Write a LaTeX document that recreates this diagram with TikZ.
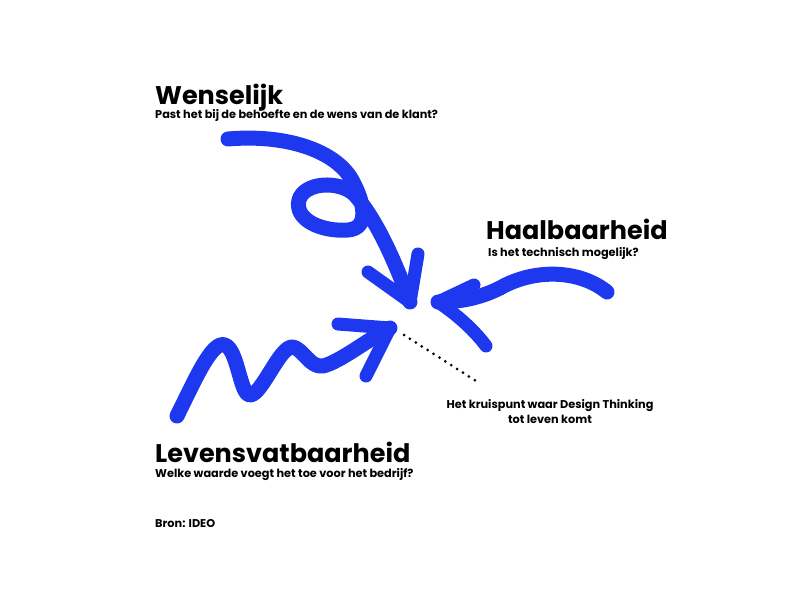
\documentclass[tikz,border=0pt]{standalone}
\usepackage{fontspec}
\setmainfont{Poppins}
\usetikzlibrary{positioning}
\definecolor{brush}{RGB}{30,56,240}

\begin{document}
\begin{tikzpicture}[x=1pt,y=-1pt,
  title/.style={font=\bfseries\fontsize{25.5}{28}\selectfont, anchor=base west, inner sep=0pt},
  sub/.style={font=\bfseries\fontsize{11.3}{15}\selectfont, anchor=base west, inner sep=0pt},
  stroke/.style={draw=brush, line width=15pt, line cap=round, line join=round},
  barb/.style={draw=brush, line width=13pt, line cap=round, line join=round},
  dots/.style={line width=3pt, line cap=round, dash pattern=on 0pt off 7pt}]
\useasboundingbox (0,0) rectangle (800,599);
\node[title] (W) at (155,105) {Wenselijk};
\node[sub] (Wq) at (155,119) {Past het bij de behoefte en de wens van de klant?};
\node[title] (H) at (486,239) {Haalbaarheid};
\node[sub] (Hq) at (488,256) {Is het technisch mogelijk?};
\node[title] (L) at (155,462) {Levensvatbaarheid};
\node[sub] (Lq) at (155,477) {Welke waarde voegt het toe voor het bedrijf?};
\node[sub, anchor=north, align=center] (K) at (550,399) {Het kruispunt waar Design Thinking\\tot leven komt};
\node[sub] (B) at (155,527) {Bron: IDEO};
\coordinate (wtip) at (410,302);
\coordinate (htip) at (438,302);
\coordinate (ltip) at (390,328);
\coordinate (kruis) at (404,335);
\coordinate (kruisend) at (476,381);
\draw[stroke] (228,139) .. controls (285,134) and (335,150) .. (352,180) .. controls (362,198) and (372,228) .. (348,230) .. controls (322,232) and (294,220) .. (299,200) .. controls (304,182) and (340,180) .. (355,195) .. controls (378,222) and (395,262) .. (wtip);
\draw[barb] (368,272) -- (wtip) -- (418,254);
\draw[stroke] (607,292) .. controls (580,270) and (535,268) .. (500,288) .. controls (480,298) and (460,302) .. (htip);
\draw[barb] (474,285) -- (htip) .. controls (462,318) and (478,335) .. (486,346);
\draw[stroke] (177,416) .. controls (195,380) and (212,340) .. (225,345) .. controls (238,350) and (240,395) .. (250,395) .. controls (262,395) and (280,345) .. (293,347) .. controls (303,349) and (310,368) .. (323,366) .. controls (340,362) and (370,338) .. (ltip);
\draw[barb] (338,324) -- (ltip) -- (366,376);
\draw[dots] (kruis) -- (kruisend);
\end{tikzpicture}
\end{document}
